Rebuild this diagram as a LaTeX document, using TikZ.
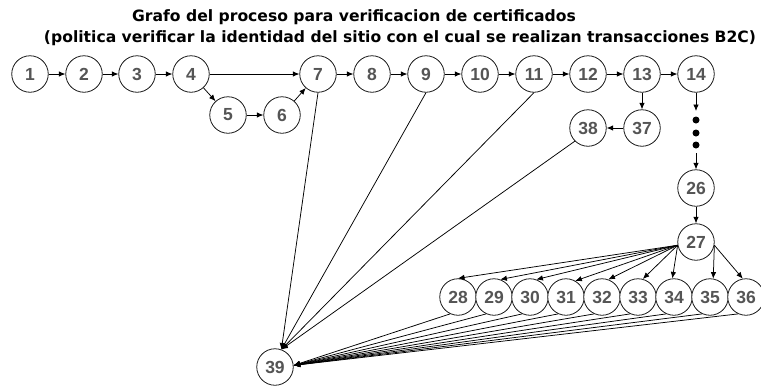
\documentclass[tikz,border=0pt]{standalone}
\usepackage{fontspec}
\setmainfont{Liberation Sans}
\newfontfamily\titlefont{DejaVu Sans}
\usetikzlibrary{arrows.meta}
\definecolor{numgray}{HTML}{555555}
\begin{document}
\begin{tikzpicture}[x=1pt,y=-1pt,
  vnode/.style={circle,draw=black!90,line width=0.8pt,minimum size=36.5pt,inner sep=0pt,
    font=\fontsize{17.5}{17.5}\selectfont\bfseries,text=numgray,fill=white},
  arr/.style={-{Latex[length=6.5pt,width=5.5pt]},line width=0.75pt,draw=black},
  dotnode/.style={circle,fill=black,minimum size=7pt,inner sep=0pt},
  ttl/.style={font=\titlefont\bfseries\fontsize{15.6}{15.6}\selectfont}]
\useasboundingbox (0,0) rectangle (761,386);
\node[ttl] (t1) at (354,17) {Grafo del proceso para verificacion de certificados};
\node[ttl] (t2) at (400,38) {(politica verificar la identidad del sitio con el cual se realizan transacciones B2C)};
% top row
\foreach \n/\x in {1/30,2/84,3/137,4/191,7/318,8/372,9/426,10/480,11/534,12/588,13/642,14/696}
  \node[vnode] (\n) at (\x,74) {\n};
\node[vnode] (5) at (228,115) {5};
\node[vnode] (6) at (282,115) {6};
\node[vnode] (37) at (642,128) {37};
\node[vnode] (38) at (588,128) {38};
\node[vnode] (26) at (696,188) {26};
\node[vnode] (27) at (696,242) {27};
\foreach \n/\x in {28/458,29/494,30/530,31/566,32/602,33/638,34/674,35/710,36/746}
  \node[vnode] (\n) at (\x,297) {\n};
\node[vnode] (39) at (275,367) {39};
% dots
\node[dotnode] (d1) at (696,120) {};
\node[dotnode] (d2) at (696,133) {};
\node[dotnode] (d3) at (696,145) {};
\coordinate (dtop) at (696,111);
\coordinate (dbot) at (696,153);
% edges
\foreach \a/\b in {1/2,2/3,3/4,4/7,7/8,8/9,9/10,10/11,11/12,12/13,13/14,4/5,5/6,6/7,13/37,37/38,26/27}
  \draw[arr] (\a) -- (\b);
\draw[arr] (14) -- (dtop);
\draw[arr] (dbot) -- (26);
\draw[arr] (7.south) -- (39.70);
\draw[arr] (9.south) -- (39.70);
\draw[arr] (11.south) -- (39.70);
\draw[arr] (38.225) -- (39.70);
\foreach \n/\ang in {28/90,29/70,30/70,31/60,32/70,33/75,34/95}
  \draw[arr] (27.190) -- (\n.\ang);
\draw[arr] (27.-10) -- (35.80);
\draw[arr] (27.-10) -- (36.100);
\foreach \n in {28,29,30,31,32,33,34,35,36}
  \draw[arr] (\n.245) -- (39.5);
\end{tikzpicture}
\end{document}
